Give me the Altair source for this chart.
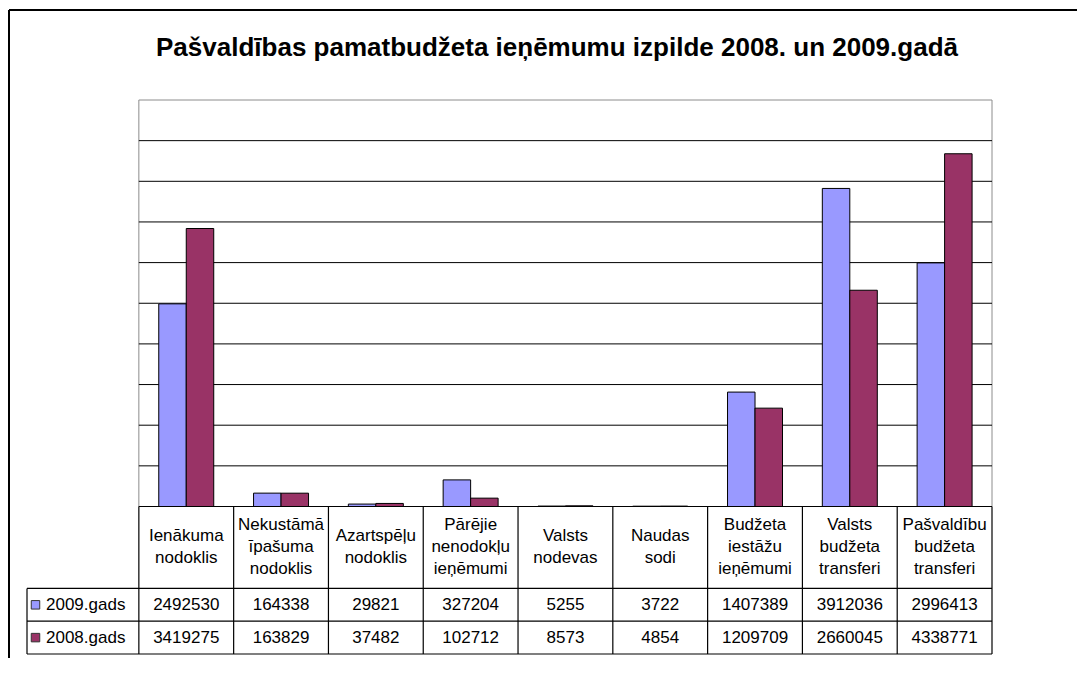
import altair as alt
import pandas as pd

# ---------------- data ----------------
categories = [
    "Ienākuma\nnodoklis",
    "Nekustāmā\nīpašuma\nnodoklis",
    "Azartspēļu\nnodoklis",
    "Pārējie\nnenodokļu\nieņēmumi",
    "Valsts\nnodevas",
    "Naudas\nsodi",
    "Budžeta\niestāžu\nieņēmumi",
    "Valsts\nbudžeta\ntransferi",
    "Pašvaldību\nbudžeta\ntransferi",
]
series = ["2009.gads", "2008.gads"]
values_2009 = [2492530, 164338, 29821, 327204, 5255, 3722, 1407389, 3912036, 2996413]
values_2008 = [3419275, 163829, 37482, 102712, 8573, 4854, 1209709, 2660045, 4338771]
colors = ["#9999FF", "#993366"]
grid_values = [500000, 1000000, 1500000, 2000000, 2500000, 3000000, 3500000, 4000000, 4500000]
y_max = 5000000
title = "Pašvaldības pamatbudžeta ieņēmumu izpilde 2008. un 2009.gadā"

FONT = "Liberation Sans"
FS = 17
LH = 22
W, H = 1068, 648
n = len(categories)
LEG = 1.18          # width of the legend column, in category steps
GROUP = 0.58        # share of a category step taken by the two bars

# ---------------- tables built from the arrays ----------------
bar_rows = []
for i, cat in enumerate(categories):
    for s, vals in enumerate([values_2009, values_2008]):
        x0 = i + (1 - GROUP) / 2 + s * GROUP / 2
        bar_rows.append({"series": series[s], "x0": x0, "x1": x0 + GROUP / 2,
                         "value": vals[i], "zero": 0})
bars_df = pd.DataFrame(bar_rows)

grid_df = pd.DataFrame({"y": grid_values, "x0": 0, "x1": n})
frame_df = pd.DataFrame({"x0": [0], "x1": [n], "y0": [0], "y1": [y_max]})

# table rows (row units): header 0..2.5, 2009 row 2.5..3.5, 2008 row 3.5..4.5
hl_df = pd.DataFrame({"y": [0, 2.5, 3.5, 4.5], "x0": [0, -LEG, -LEG, -LEG], "x1": [n] * 4})
vl_df = pd.DataFrame({"x": [-LEG] + list(range(n + 1)),
                      "y0": [2.5] + [0] * (n + 1), "y1": [4.5] * (n + 2)})
head_df = pd.DataFrame({"label": categories, "x": [i + 0.5 for i in range(n)], "y": 1.25,
                        "nlines": [c.count("\n") + 1 for c in categories]})
val_rows = []
for s, vals in enumerate([values_2009, values_2008]):
    for i, v in enumerate(vals):
        val_rows.append({"label": str(v), "x": i + 0.5, "y": 3.0 + s})
val_df = pd.DataFrame(val_rows)
leg_df = pd.DataFrame({"series": series, "x": -LEG, "y": [3.0, 4.0]})

# ---------------- scales ----------------
xs = alt.Scale(domain=[-LEG, n], range=[18, 983], nice=False, zero=False)
ys = alt.Scale(domain=[0, y_max], range=[496.5, 90], nice=False, zero=False)
yt = alt.Scale(domain=[0, 4.5], range=[496.5, 644], nice=False, zero=False)
cs = alt.Scale(domain=series, range=colors)

# outer chart frame (only its left and top edges are inside the picture)
frame_left = alt.Chart(frame_df).mark_rule(color="black", strokeWidth=2).encode(
    x=alt.value(0), y=alt.value(0), y2=alt.value(H + 10))
frame_top = alt.Chart(frame_df).mark_rule(color="black", strokeWidth=2).encode(
    x=alt.value(0), x2=alt.value(W + 10), y=alt.value(0))

plot_border = alt.Chart(frame_df).mark_rect(fill=None, stroke="#8c8c8c", strokeWidth=1).encode(
    x=alt.X("x0:Q", scale=xs, axis=None), x2="x1:Q",
    y=alt.Y("y0:Q", scale=ys, axis=None), y2="y1:Q")

grid = alt.Chart(grid_df).mark_rule(color="black", strokeWidth=1).encode(
    x=alt.X("x0:Q", scale=xs, axis=None), x2="x1:Q",
    y=alt.Y("y:Q", scale=ys, axis=None))

bars = alt.Chart(bars_df).mark_rect(stroke="black", strokeWidth=1).encode(
    x=alt.X("x0:Q", scale=xs, axis=None), x2="x1:Q",
    y=alt.Y("value:Q", scale=ys, axis=None), y2="zero:Q",
    color=alt.Color("series:N", scale=cs, legend=None))

hlines = alt.Chart(hl_df).mark_rule(color="black", strokeWidth=1.2).encode(
    x=alt.X("x0:Q", scale=xs, axis=None), x2="x1:Q",
    y=alt.Y("y:Q", scale=yt, axis=None))

vlines = alt.Chart(vl_df).mark_rule(color="black", strokeWidth=1.2).encode(
    x=alt.X("x:Q", scale=xs, axis=None),
    y=alt.Y("y0:Q", scale=yt, axis=None), y2="y1:Q")


def head_layer(nl):
    return alt.Chart(head_df).transform_filter(alt.datum.nlines == nl).mark_text(
        font=FONT, fontSize=FS, lineBreak="\n", lineHeight=LH, baseline="middle",
        align="center", color="black", dy=-(nl - 1) * LH / 2).encode(
        x=alt.X("x:Q", scale=xs, axis=None),
        y=alt.Y("y:Q", scale=yt, axis=None), text="label:N")


heads2 = head_layer(2)
heads3 = head_layer(3)

vals = alt.Chart(val_df).mark_text(font=FONT, fontSize=FS, baseline="middle",
                                   align="center", color="black").encode(
    x=alt.X("x:Q", scale=xs, axis=None),
    y=alt.Y("y:Q", scale=yt, axis=None), text="label:N")

leg_sw = alt.Chart(leg_df).mark_square(size=72, opacity=1, stroke="#333333", strokeWidth=1,
                                       xOffset=8.5).encode(
    x=alt.X("x:Q", scale=xs, axis=None),
    y=alt.Y("y:Q", scale=yt, axis=None),
    fill=alt.Fill("series:N", scale=cs, legend=None))

leg_tx = alt.Chart(leg_df).mark_text(font=FONT, fontSize=FS, baseline="middle", align="left",
                                     dx=19, color="black").encode(
    x=alt.X("x:Q", scale=xs, axis=None),
    y=alt.Y("y:Q", scale=yt, axis=None), text="series:N")

chart = alt.layer(
    frame_left, frame_top, plot_border, grid, bars, hlines, vlines,
    heads2, heads3, vals, leg_sw, leg_tx
).resolve_scale(y="independent").properties(
    width=W, height=H,
    title=alt.TitleParams(title, font=FONT, fontSize=26, fontWeight="bold", anchor="middle",
                          frame="group", offset=-65, baseline="middle", color="black", dx=14),
    padding={"left": 1, "top": 2, "right": 0, "bottom": 0},
    autosize=alt.AutoSizeParams(type="none"),
).configure_view(stroke=None).configure(background="white")

chart.save("out.html", embed_options={"renderer": "svg", "actions": False})
